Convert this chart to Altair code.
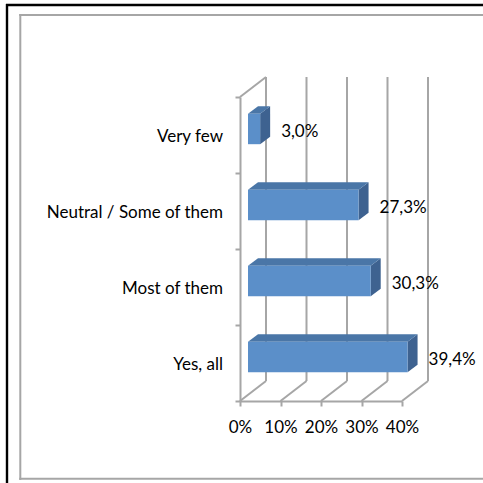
import altair as alt
import pandas as pd

# ---- data ----
categories = ["Very few", "Neutral / Some of them", "Most of them", "Yes, all"]
values = [3.0, 27.3, 30.3, 39.4]
x_ticks = [0, 10, 20, 30, 40]

# ---- layout / 3D style constants (pixels) ----
W, H = 162, 304
LEFT, TOP_PAD = 240, 97
XMAX, NCAT = 40, len(categories)
XS = W / XMAX          # px per percent
YS = H / NCAT          # px per category slot
DX, DY = 26, 20        # depth of the back wall
BX0, BY0 = 8, 6        # bar front face offset from front plane
BDX, BDY = 10, 7.5     # bar depth
HALF = 0.2             # half bar thickness in slot units

FONT = "Lato"
FS = 17
GRAY = "#A6A6A6"
FRONT, TOP, SIDE = "#5B8FC9", "#4A76A7", "#3E6290"

pos = [NCAT - 1 - i + 0.5 for i in range(NCAT)]
labels = [f"{v:.1f}".replace(".", ",") + "%" for v in values]

bars = pd.DataFrame({"cat": categories, "value": values, "pos": pos, "label": labels})
bars["x0"] = BX0 / XS
bars["x1"] = bars["value"] + BX0 / XS
bars["y0"] = bars["pos"] - HALF + BY0 / YS
bars["y1"] = bars["pos"] + HALF + BY0 / YS

top_rows, side_rows = [], []
for rec in bars.to_dict("records"):
    c = rec["cat"]
    top_rows.append({"cat": c, "y": rec["y1"], "xa": rec["x0"], "xb": rec["x1"]})
    top_rows.append({"cat": c, "y": rec["y1"] + BDY / YS, "xa": rec["x0"] + BDX / XS, "xb": rec["x1"] + BDX / XS})
    side_rows.append({"cat": c, "x": rec["x1"], "ya": rec["y0"], "yb": rec["y1"]})
    side_rows.append({"cat": c, "x": rec["x1"] + BDX / XS, "ya": rec["y0"] + BDY / YS, "yb": rec["y1"] + BDY / YS})
top_df = pd.DataFrame(top_rows)
side_df = pd.DataFrame(side_rows)

grid_df = pd.DataFrame({"t": x_ticks})
grid_df["gx"] = grid_df["t"] + DX / XS
grid_df["gy0"] = DY / YS
grid_df["gy1"] = NCAT + DY / YS
grid_df["fy0"] = 0.0

corner_df = pd.DataFrame({"x": [0.0], "x2": [DX / XS], "y": [float(NCAT)], "y2": [NCAT + DY / YS]})

xscale = alt.Scale(domain=[0, XMAX], nice=False, zero=True)
yscale = alt.Scale(domain=[0, NCAT], nice=False, zero=True)
xaxis = alt.Axis(values=x_ticks, labelExpr="datum.value + '%'", grid=False, title=None,
                 labelOverlap=False, labelFlush=False,
                 domainColor=GRAY, domainWidth=2, tickColor=GRAY, tickWidth=2, tickSize=5,
                 labelFont=FONT, labelFontSize=FS, labelColor="black", labelPadding=13)
yaxis = alt.Axis(values=list(range(NCAT + 1)), labels=False, grid=False, title=None,
                 domainColor=GRAY, domainWidth=2, tickColor=GRAY, tickWidth=2, tickSize=5)


def X(f):
    return alt.X(f, type="quantitative", scale=xscale, axis=xaxis)


def Y(f):
    return alt.Y(f, type="quantitative", scale=yscale, axis=yaxis)


one = pd.DataFrame({"a": [0]})


def hline(px_y, px_x0, px_x1, color, width):
    return alt.Chart(one).mark_rule(color=color, strokeWidth=width).encode(
        x=alt.value(px_x0 - LEFT), x2=alt.value(px_x1 - LEFT),
        y=alt.value(px_y - TOP_PAD), y2=alt.value(px_y - TOP_PAD))


def vline(px_x, px_y0, px_y1, color, width):
    return alt.Chart(one).mark_rule(color=color, strokeWidth=width).encode(
        x=alt.value(px_x - LEFT), x2=alt.value(px_x - LEFT),
        y=alt.value(px_y0 - TOP_PAD), y2=alt.value(px_y1 - TOP_PAD))


frames = [
    vline(7, 4, 483, "black", 2.4),
    hline(5, 6, 483, "black", 2.4),
    vline(20.3, 14, 480, GRAY, 2),
    hline(15, 19.3, 483, GRAY, 2),
    hline(478.7, 19.3, 483, GRAY, 2),
]

back_grid = alt.Chart(grid_df).mark_rule(color=GRAY, strokeWidth=2).encode(
    x=X("gx"), x2="gx", y=Y("gy0"), y2="gy1")
floor_diag = alt.Chart(grid_df).mark_rule(color=GRAY, strokeWidth=2).encode(
    x=X("t"), x2="gx", y=Y("fy0"), y2="gy0")
corner = alt.Chart(corner_df).mark_rule(color=GRAY, strokeWidth=2).encode(
    x=X("x"), x2="x2", y=Y("y"), y2="y2")

front = alt.Chart(bars).mark_rect(color=FRONT).encode(
    x=X("x0"), x2="x1", y=Y("y0"), y2="y1")
top = alt.Chart(top_df).mark_area(orient="horizontal", color=TOP).encode(
    y=Y("y"), x=X("xa"), x2="xb", detail="cat:N")
side = alt.Chart(side_df).mark_area(orient="vertical", color=SIDE).encode(
    x=X("x"), y=Y("ya"), y2="yb", detail="cat:N")

cat_text = alt.Chart(bars).mark_text(align="right", baseline="middle", dx=-17, dy=2,
                                     font=FONT, fontSize=FS, color="black").encode(
    x=alt.value(0), y=Y("pos"), text="cat:N")
val_text = alt.Chart(bars).mark_text(align="left", baseline="middle", dx=29, dy=-3,
                                     font=FONT, fontSize=FS, color="black").encode(
    x=X("value"), y=Y("pos"), text="label:N")

chart = alt.layer(*frames, back_grid, floor_diag, corner,
                  side, top, front, cat_text, val_text).properties(
    width=W, height=H,
    autosize=alt.AutoSizeParams(type="none"),
    padding={"left": LEFT, "top": TOP_PAD, "right": 483 - LEFT - W, "bottom": 483 - TOP_PAD - H},
    background="white",
).configure_view(stroke=None)

chart.save("out.html", embed_options={"renderer": "svg", "actions": False})
